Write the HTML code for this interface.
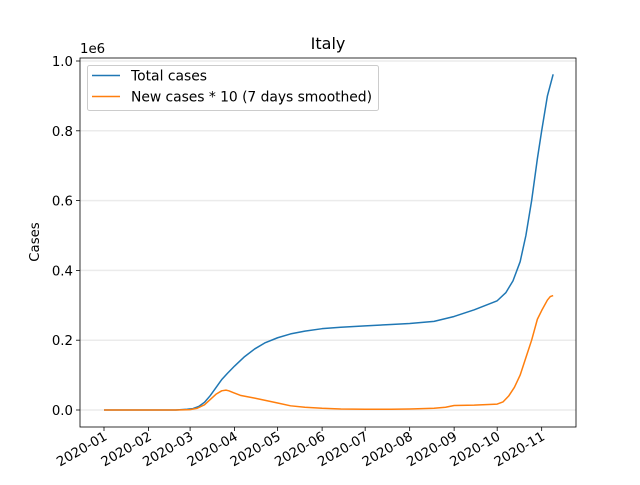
<!DOCTYPE html>
<html><head><meta charset="utf-8"><style>
body{margin:0;background:#fff}
svg{font-family:"DejaVu Sans","Liberation Sans",sans-serif}
</style></head><body>
<svg id="chart" width="640" height="480" viewBox="0 0 640 480"></svg>
<script>
const monthLabels=["2020-01","2020-02","2020-03","2020-04","2020-05","2020-06","2020-07","2020-08","2020-09","2020-10","2020-11"];
const monthDays=[0,31,60,91,121,152,182,213,244,274,305];
const yTicks=[0,0.2,0.4,0.6,0.8,1.0];
const yTickLabels=["0.0","0.2","0.4","0.6","0.8","1.0"];
const totalDays=[0,30,50,58,62,66,70,74,78,82,86,91,98,105,112,121,130,140,152,165,182,200,213,230,244,258,274,280,285,290,294,298,302,305,309,313];
const totalVals=[0,0,0,0.002,0.004,0.01,0.022,0.041,0.064,0.087,0.105,0.126,0.153,0.175,0.192,0.207,0.218,0.226,0.233,0.237,0.241,0.245,0.248,0.254,0.268,0.287,0.313,0.336,0.37,0.425,0.50,0.60,0.72,0.80,0.90,0.962];
const newDays=[0,30,50,60,65,70,74,78,82,85,87,90,95,100,105,112,121,130,140,152,165,182,200,213,230,238,244,258,274,278,282,286,290,294,298,302,305,309,311,313];
const newVals=[0,0,0,0.001,0.005,0.015,0.03,0.045,0.055,0.057,0.055,0.05,0.042,0.038,0.034,0.028,0.02,0.012,0.008,0.005,0.003,0.002,0.002,0.003,0.005,0.008,0.013,0.014,0.017,0.023,0.04,0.065,0.1,0.15,0.2,0.26,0.285,0.315,0.325,0.328];
const NS="http://www.w3.org/2000/svg";
const svg=document.getElementById('chart');
const L=80,R=576,T=58,B=427;
const x=d=>104+d*1.435;
const y=v=>410-v*349;
function el(t,a,p){const e=document.createElementNS(NS,t);for(const k in a)e.setAttribute(k,a[k]);(p||svg).appendChild(e);return e;}
yTicks.forEach((v,i)=>{
 const g=el('line',{x1:L,x2:R,y1:y(v),y2:y(v),stroke:'#ebebeb','stroke-width':1.5});
 
 
 const t=el('line',{x1:L-4,x2:L,y1:y(v),y2:y(v),stroke:'#000','stroke-width':0.8});
 
 
 const tx=el('text',{x:L-7,y:y(v)+5,'text-anchor':'end','font-size':13.3});
 tx.textContent=yTickLabels[i];
 
 
});
monthDays.forEach((d,i)=>{
 const t=el('line',{x1:x(d),x2:x(d),y1:B,y2:B+4,stroke:'#000','stroke-width':0.8});
 
 
 const ax=x(d)+4, ay=B+12;
 const tx=el('text',{x:ax,y:ay,'text-anchor':'end','font-size':13.3,transform:`rotate(-30 ${ax} ${ay})`});
 tx.textContent=monthLabels[i];
 
 
});
function line(ds,vs,c,name){
 const p=el('polyline',{points:ds.map((d,i)=>x(d)+','+y(vs[i])).join(' '),fill:'none',stroke:c,'stroke-width':1.5,'stroke-linejoin':'round'});
 
 
}
line(totalDays,totalVals,'#1f77b4','total-cases-line');
line(newDays,newVals,'#ff7f0e','new-cases-line');
const fr=el('rect',{x:L,y:T,width:R-L,height:B-T,fill:'none',stroke:'#000','stroke-width':0.8});


</script>
<svg width="640" height="480" style="position:absolute;left:0;top:0" font-family="DejaVu Sans, Liberation Sans, sans-serif">
<text x="328" y="49" text-anchor="middle" font-size="16">Italy</text>
<text x="80" y="53" font-size="13.3">1e6</text>
<text x="39" y="242" text-anchor="middle" font-size="13.3" transform="rotate(-90 39 242)">Cases</text>
<g>
<rect x="87.5" y="65.5" width="291" height="45" rx="2" fill="#fff" fill-opacity="0.8" stroke="#ccc"/>
<line x1="92" x2="120" y1="75.5" y2="75.5" stroke="#1f77b4" stroke-width="1.5"/>
<text x="131" y="80.5" font-size="13.9" textLength="76">Total cases</text>
<line x1="92" x2="120" y1="96.5" y2="96.5" stroke="#ff7f0e" stroke-width="1.5"/>
<text x="131" y="101.5" font-size="13.9" textLength="241">New cases * 10 (7 days smoothed)</text>
</g>
</svg>
</body></html>
